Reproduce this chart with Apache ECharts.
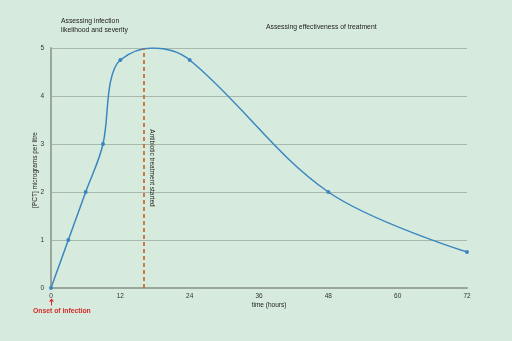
<!DOCTYPE html>
<html><head><meta charset="utf-8">
<script src="https://cdn.jsdelivr.net/npm/echarts@6/dist/echarts.min.js"></script>
<style>html,body{margin:0;padding:0;background:#d6ebdd}#c{width:512px;height:341px}</style>
</head><body><div id="c"></div>
<script>
const hours = [0, 3, 6, 9, 10.3, 12, 17.5, 24, 48, 72];
const pct   = [0, 1, 2, 3, 4.3, 4.75, 5, 4.75, 2, 0.75];
const marked = [true, true, true, true, false, true, false, true, true, true];
const xTicks = [0, 12, 24, 36, 48, 60, 72];
const yTicks = [0, 1, 2, 3, 4, 5];
const treatmentStart = 16;
const labels = {
  phase1: ['Assessing infection', 'likelihood and severity'],
  phase2: 'Assessing effectiveness of treatment',
  yName: '[PCT] micrograms per litre',
  xName: 'time (hours)',
  treatment: 'Antibiotic treatment started',
  onset: 'Onset of infection'
};
const FONT = '"Liberation Sans", Arial, sans-serif';
const chart = echarts.init(document.getElementById('c'));
const data = hours.map((h, i) => ({value: [h, pct[i]], symbol: marked[i] ? 'circle' : 'none'}));
chart.setOption({
  backgroundColor: '#d6ebdd',
  animation: false,
  grid: {left: 51, right: 45, top: 48, bottom: 53},
  xAxis: {
    type: 'value', min: 0, max: 72, interval: 12,
    axisLine: {show: true, onZero: false, lineStyle: {color: '#9aa69c', width: 2}},
    axisTick: {show: false},
    splitLine: {show: false},
    axisLabel: {fontSize: 6.5, color: '#333', fontFamily: FONT, margin: 5}
  },
  yAxis: {
    type: 'value', min: 0, max: 5, interval: 1,
    axisLine: {show: true, lineStyle: {color: '#9aa69c', width: 2}},
    axisTick: {show: false},
    splitLine: {show: true, lineStyle: {color: '#a9b8ac', width: 1}},
    axisLabel: {fontSize: 6.5, color: '#333', fontFamily: FONT, margin: 7}
  },
  series: [{
    type: 'line',
    data: data,
    smooth: 0.35,
    symbolSize: 4,
    lineStyle: {color: '#3b86c1', width: 1.5},
    itemStyle: {color: '#3b86c1'},
    markLine: {
      silent: true, symbol: 'none',
      lineStyle: {color: '#c85f1e', type: [4, 3], width: 1.6},
      label: {show: false},
      data: [[{coord: [treatmentStart, 0]}, {coord: [treatmentStart, 5]}]]
    }
  }]
});
function px(x, y) { return chart.convertToPixel({gridIndex: 0}, [x, y]); }
const p0 = px(0, 0), pT = px(treatmentStart, 3.4), pTop = px(0, 5), pEnd = px(72, 0);
const t = {fontFamily: FONT, fontSize: 6.8, fill: '#222'};
chart.setOption({
  graphic: [
    {type: 'text', left: 61, top: 16, style: Object.assign({}, t, {text: labels.phase1.join('\n'), lineHeight: 9.5})},
    {type: 'text', left: 266, top: 24, style: Object.assign({}, t, {text: labels.phase2})},
    {type: 'text', x: 35, y: (p0[1] + pTop[1]) / 2 + 2, rotation: Math.PI / 2,
     style: Object.assign({}, t, {text: labels.yName, align: 'center', verticalAlign: 'middle', fontSize: 6.5})},
    {type: 'text', x: (p0[0] + pEnd[0]) / 2 + 10, y: 305,
     style: Object.assign({}, t, {text: labels.xName, align: 'center', verticalAlign: 'middle', fontSize: 6.5})},
    {type: 'text', x: pT[0] + 8, y: 168, rotation: -Math.PI / 2,
     style: Object.assign({}, t, {text: labels.treatment, align: 'center', verticalAlign: 'middle', fontSize: 6.5})},
    {type: 'text', x: p0[0] - 18, y: 311,
     style: {text: labels.onset, fontFamily: FONT, fontSize: 6.8, fontWeight: 'bold', fill: '#d42a2a', align: 'left', verticalAlign: 'middle'}},
    {type: 'line', shape: {x1: p0[0] + 0.5, y1: 305.5, x2: p0[0] + 0.5, y2: 301}, style: {stroke: '#d42a2a', lineWidth: 1}},
    {type: 'polygon', shape: {points: [[p0[0] - 2, 301.5], [p0[0] + 3, 301.5], [p0[0] + 0.5, 298.5]]}, style: {fill: '#d42a2a'}}
  ]
});
</script></body></html>
